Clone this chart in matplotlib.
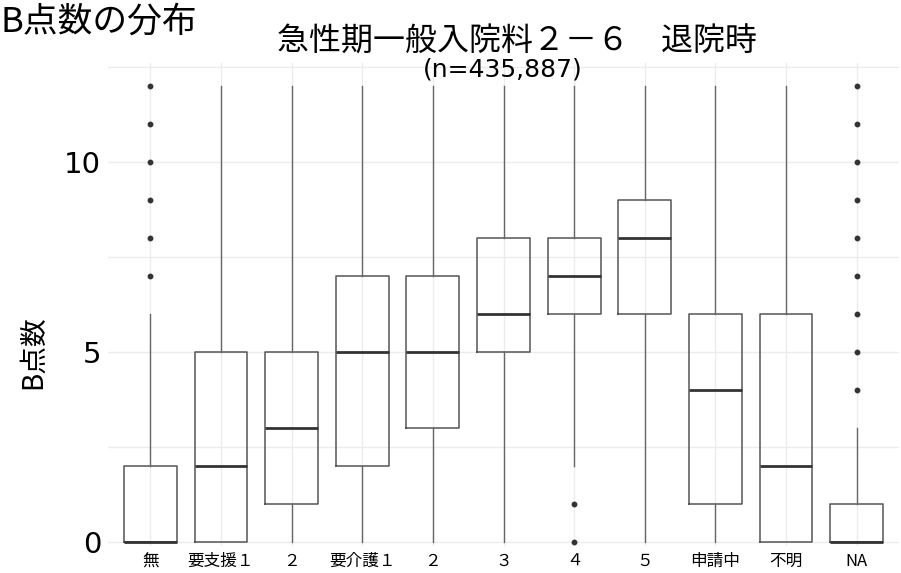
import matplotlib
matplotlib.use("Agg")
import matplotlib.pyplot as plt

plt.rcParams['font.family'] = ['Noto Sans CJK JP', 'DejaVu Sans']

# Categories along the x axis
categories = ["無", "要支援１", "２", "要介護１", "２", "３", "４", "５", "申請中", "不明", "NA"]

# Five-number summaries per category
q1 = [0, 0, 1, 2, 3, 5, 6, 6, 1, 0, 0]
medians = [0, 2, 3, 5, 5, 6, 7, 8, 4, 2, 0]
q3 = [2, 5, 5, 7, 7, 8, 8, 9, 6, 6, 1]
whisker_low = [0, 0, 0, 0, 0, 0, 2, 0, 0, 0, 0]
whisker_high = [6, 12, 12, 12, 12, 12, 12, 12, 12, 12, 3]
outliers = [
    [7, 8, 9, 10, 11, 12],
    [], [], [], [], [],
    [0, 1],
    [], [], [],
    [4, 5, 6, 7, 8, 9, 10, 11, 12],
]

y_ticks = [0, 5, 10]
y_grid_minor = [2.5, 7.5, 12.5]

title = "急性期一般入院料２－６　退院時"
subtitle = "(n=435,887)"
corner_title = "B点数の分布"
y_label = "B点数"

W, H = 901, 573
fig = plt.figure(figsize=(W / 100, H / 100), dpi=100)

# axes placed in pixel units
left_px, right_px, top_px, bottom_px = 108, 899, 63, 546
ax = fig.add_axes([left_px / W, 1 - bottom_px / H,
                   (right_px - left_px) / W, (bottom_px - top_px) / H])

stats = []
for i, name in enumerate(categories):
    stats.append(dict(med=medians[i], q1=q1[i], q3=q3[i],
                      whislo=whisker_low[i], whishi=whisker_high[i],
                      fliers=outliers[i], label=name))

positions = list(range(len(categories)))
edge = "#555555"
ax.bxp(stats, positions=positions, widths=0.75, showcaps=False,
       boxprops=dict(color=edge, linewidth=1.1),
       whiskerprops=dict(color="#666666", linewidth=1.0),
       medianprops=dict(color="#333333", linewidth=2.0),
       flierprops=dict(marker="o", markersize=3.2, markerfacecolor="#333333",
                       markeredgecolor="#333333", linestyle="none"),
       zorder=3)

ax.set_xlim(-0.6, 10.6)
ax.set_ylim(-0.1, 12.6)

for s in ax.spines.values():
    s.set_visible(False)

ax.set_yticks(y_ticks)
ax.set_yticks(y_grid_minor, minor=True)
ax.set_yticklabels([str(t) for t in y_ticks], family="DejaVu Sans", fontsize=21)
ax.set_xticks(positions)
ax.set_xticklabels(categories, fontsize=12)
ax.tick_params(axis="both", which="both", length=0)
ax.tick_params(axis="y", pad=5)
ax.tick_params(axis="x", pad=5)

ax.grid(True, which="both", axis="y", color="#ececec", linewidth=1.0, zorder=0)
ax.grid(True, which="major", axis="x", color="#ececec", linewidth=1.0, zorder=0)
ax.set_axisbelow(True)

ax.set_ylabel(y_label, fontsize=20)
ax.yaxis.set_label_coords(-(left_px - 48) / (right_px - left_px),
                          (bottom_px - 352) / (bottom_px - top_px))

fig.text(0 / W, 1 - 22 / H, corner_title, fontsize=25, ha="left", va="center")
fig.text(517 / W, 1 - 42 / H, title, fontsize=23, ha="center", va="center")
fig.text(503 / W, 1 - 70 / H, subtitle, fontsize=18, ha="center", va="center",
         family="DejaVu Sans")

fig.savefig("out.png", dpi=100)
